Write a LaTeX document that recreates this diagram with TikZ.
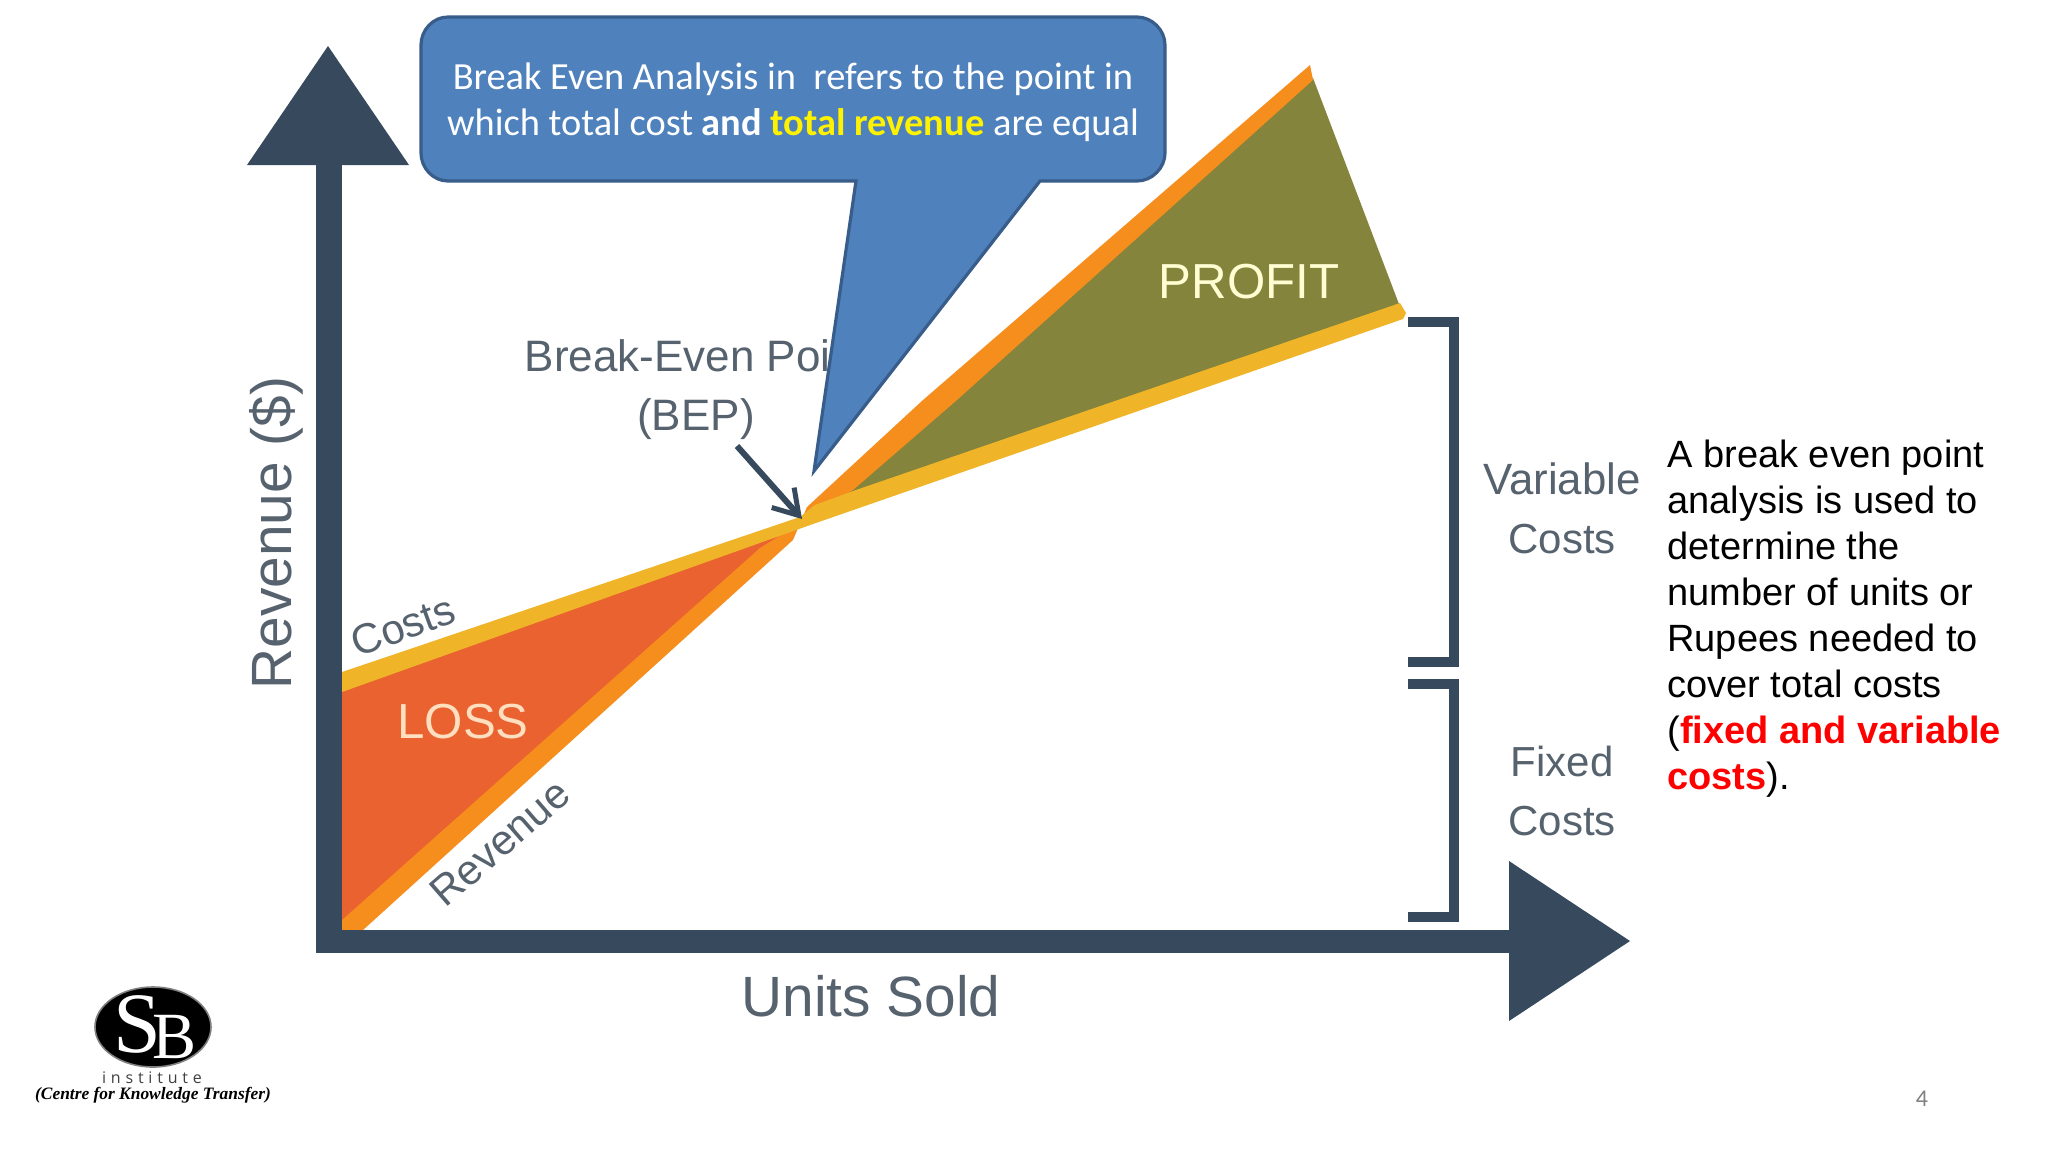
\documentclass[tikz,border=0pt]{standalone}
\usepackage{fontspec}
\usetikzlibrary{arrows.meta,shapes.geometric}
\setmainfont{Liberation Sans}
\newfontfamily\calibrifont{Carlito}
\newfontfamily\logofont{Liberation Serif}
\newfontfamily\spacedfont[LetterSpace=30]{Open Sans}
\definecolor{slate}{HTML}{37495C}
\definecolor{labelgrey}{HTML}{56626E}
\definecolor{lossred}{HTML}{E9622F}
\definecolor{revorange}{HTML}{F68E1E}
\definecolor{costyellow}{HTML}{EFB428}
\definecolor{olive}{HTML}{85843C}
\definecolor{calloutfill}{HTML}{4F81BD}
\definecolor{calloutedge}{HTML}{385D8A}
\definecolor{redtext}{HTML}{FF0000}
\tikzset{
  x=0.5pt,y=-0.5pt,
  axisfill/.style={fill=slate,draw=none},
  chartlabel/.style={text=labelgrey,inner sep=0pt,align=center,font=\fontsize{21}{30}\selectfont},
  bigaxis/.style={text=labelgrey,inner sep=0pt,font=\fontsize{28.4}{32}\selectfont},
  regionlabel/.style={inner sep=0pt,font=\fontsize{24.6}{28}\selectfont},
  bracketline/.style={draw=slate,line width=5pt,line cap=butt,line join=miter},
  callouttext/.style={text=white,inner sep=0pt,align=center,font=\calibrifont\fontsize{19.2}{23}\selectfont},
  sidetext/.style={text=black,inner sep=0pt,align=left,anchor=north west,font=\fontsize{19}{23}\selectfont},
}
\begin{document}
\begin{tikzpicture}
\useasboundingbox (0,0) rectangle (2048,1152);
\fill[white] (0,0) rectangle (2048,1152);
% regions
\fill[lossred] (342,680) -- (790,525) -- (790,540) -- (342,925) -- cycle;
\fill[olive] (835,500) -- (1300,75) -- (1313,78) -- (1402,312) -- cycle;
\fill[revorange] (342,920) -- (760,548) -- (853,490) -- (957,400) -- (1313,80) -- (1310,65) -- (923,400) -- (807,507) -- (793,540) -- (363,930) -- (342,930) -- cycle;
\fill[costyellow] (342,672) -- (800,517) -- (815,505) -- (853,491) -- (1400,303) -- (1406,313) -- (1403,319) -- (813,524) -- (342,692) -- cycle;
% axes
\fill[axisfill] (316,165) rectangle (342,953);
\fill[axisfill] (316,930) rectangle (1509,953);
\fill[axisfill] (328,46) -- (409,165) -- (247,165) -- cycle;
\fill[axisfill] (1509,861) -- (1630,941) -- (1509,1021) -- cycle;
% brackets
\draw[bracketline] (1408,322) -- (1454,322) -- (1454,662) -- (1408,662);
\draw[bracketline] (1408,684) -- (1454,684) -- (1454,917) -- (1408,917);
% chart labels
\node[chartlabel] (vc) at (1562,508) {{\fontsize{21.9}{30}\selectfont Variable}\\[-.02em]Costs};
\node[chartlabel] (fc) at (1562,791) {Fixed\\[-.02em]Costs};
\node[bigaxis,rotate=90] (ry) at (276,533) {Revenue (\$)};
\node[bigaxis] (ux) at (871,996) {Units Sold};
\node[regionlabel,text=white!82!yellow] (profit) at (1249,282) {PROFIT};
\node[regionlabel,text=orange!25!white] (loss) at (463,722) {LOSS};
\node[chartlabel,rotate=20] (costs) at (403,626) {Costs};
\node[chartlabel,rotate=41] (rev) at (500,843) {Revenue};
\node[text=labelgrey,inner sep=0pt,align=center,font=\fontsize{22}{29.5}\selectfont] (bep) at (696,390) {Break-Even Point\\(BEP)};
\coordinate (bepfrom) at (737,446);
\coordinate (bepto) at (802,519);
\draw[draw=slate,line width=3pt,-{Straight Barb[length=12pt,width=15pt,line width=2.5pt]}] (bepfrom) -- (bepto);
% callout
\draw[draw=calloutedge,fill=calloutfill,line width=1.6pt,line join=miter]
  (448,17) -- (1137,17) .. controls (1152,17) and (1165,30) .. (1165,45)
  -- (1165,153) .. controls (1165,168) and (1152,181) .. (1137,181)
  -- (1040,181) -- (814,471) -- (856,181) -- (448,181)
  .. controls (433,181) and (421,168) .. (421,153)
  -- (421,45) .. controls (421,30) and (433,17) .. (448,17) -- cycle;
\node[callouttext] (msg) at (793,102) {Break Even Analysis in\ \ refers to the point in\\which total cost \textbf{and} \textcolor{yellow}{\textbf{total revenue}} are equal};
% side text
\node[sidetext] (side) at (1667,440) {A break even point\\analysis is used to\\determine the\\number of units or\\Rupees needed to\\cover total costs\\(\textcolor{redtext}{\textbf{fixed and variable}}\\\textcolor{redtext}{\textbf{costs}}).};
% page number
\node[inner sep=0pt,text=gray,font=\calibrifont\fontsize{12}{14}\selectfont] (page) at (1922,1099) {4};
% logo
\node[ellipse,fill=black,draw=gray,line width=0.8pt,inner sep=0pt,minimum width=58pt,minimum height=40pt] (logoshape) at (153,1027) {};
\node[inner sep=0pt,text=white,font=\logofont\fontsize{43}{43}\selectfont] (logos) at (137,1024) {S};
\node[inner sep=0pt,text=white,font=\logofont\fontsize{33}{33}\selectfont] (logob) at (175,1037) {B};
\node[inner sep=0pt,text=black!75,font=\spacedfont\fontsize{8}{10}\selectfont] (inst) at (152,1078) {institute};
\node[inner sep=0pt,text=black,font=\logofont\itshape\bfseries\fontsize{8.7}{9}\selectfont] (tag) at (153,1095) {(Centre for Knowledge Transfer)};
\end{tikzpicture}
\end{document}
